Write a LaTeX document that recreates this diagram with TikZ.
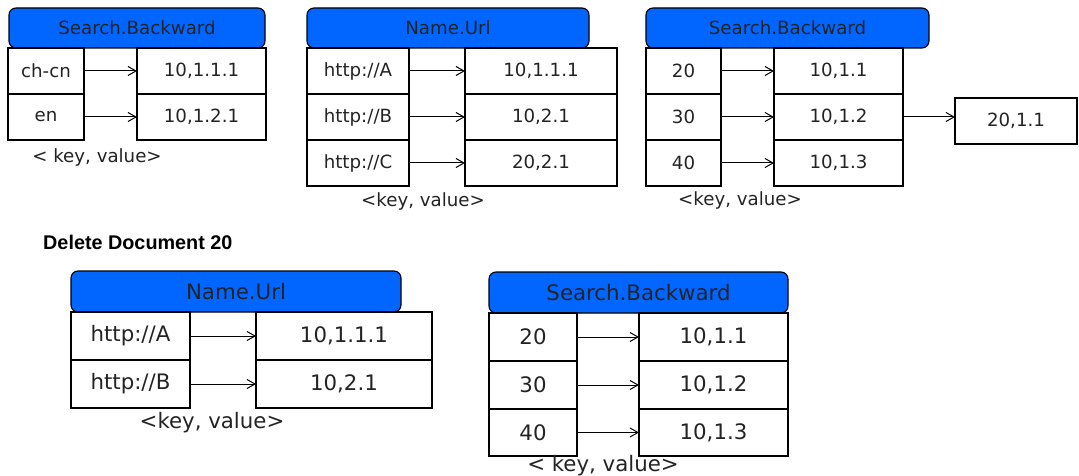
\documentclass[tikz,border=0pt]{standalone}
\usepackage{fontspec}
\setmainfont{DejaVu Sans}
\newfontfamily\titlefont{Liberation Sans}
\usepackage{tikz}
\usetikzlibrary{positioning}
\usetikzlibrary{arrows.meta}
\definecolor{hdrblue}{RGB}{0,102,255}
\definecolor{ink}{RGB}{35,35,35}

\tikzset{
	head/.style={draw, fill=hdrblue, rounded corners=7pt, line width=1.1pt,
		inner sep=0pt, outer sep=0pt, anchor=north west},
	cell/.style={draw, line width=1.1pt, inner sep=0pt, outer sep=0pt},
	small/.style={font=\fontsize{18.2}{18}\selectfont},
	big/.style={font=\fontsize{21.3}{21}\selectfont}
}

\begin{document}
\begin{tikzpicture}[x=1pt, y=-1pt,
						>={Straight Barb[length=8pt,width=9pt]},
						text=ink]
		\useasboundingbox (0,0) rectangle (1079,476);
		% Search.Backward (before)
		\node [head, small, minimum width=256, minimum height=40] (head1) at (9,8) {Search.Backward};
		\node [cell, small, anchor=north west, minimum width=76, minimum height=46] (key1a) at (8,48) {ch-cn};
		\node [cell, small, minimum width=76, minimum height=46, below=0pt of key1a] (key1b) {en};
		\node [cell, small, anchor=north west, minimum width=129, minimum height=46] (val1a) at (137,48) {10,1.1.1};
		\node [cell, small, minimum width=129, minimum height=46, below=0pt of val1a] (val1b) {10,1.2.1};
		\node [small] (kv1) at (97,157) {< key, value>};
		% Name.Url
		\node [head, small, minimum width=282, minimum height=40] (head2) at (307,8) {Name.Url};
		\node [cell, small, anchor=north west, minimum width=102, minimum height=46] (key2a) at (307,48) {http://A};
		\node [cell, small, minimum width=102, minimum height=46, below=0pt of key2a] (key2b) {http://B};
		\node [cell, small, minimum width=102, minimum height=46, below=0pt of key2b] (key2c) {http://C};
		\node [cell, small, anchor=north west, minimum width=152, minimum height=46] (val2a) at (465,48) {10,1.1.1};
		\node [cell, small, minimum width=152, minimum height=46, below=0pt of val2a] (val2b) {10,2.1};
		\node [cell, small, minimum width=152, minimum height=46, below=0pt of val2b] (val2c) {20,2.1};
		\node [small] (kv2) at (423,201) {<key, value>};
		% Search.Backward (numbers)
		\node [head, small, minimum width=283, minimum height=40] (head3) at (646,8) {Search.Backward};
		\node [cell, small, anchor=north west, minimum width=75, minimum height=46] (key3a) at (646,48) {20};
		\node [cell, small, minimum width=75, minimum height=46, below=0pt of key3a] (key3b) {30};
		\node [cell, small, minimum width=75, minimum height=46, below=0pt of key3b] (key3c) {40};
		\node [cell, small, anchor=north west, minimum width=129, minimum height=46] (val3a) at (774,48) {10,1.1};
		\node [cell, small, minimum width=129, minimum height=46, below=0pt of val3a] (val3b) {10,1.2};
		\node [cell, small, minimum width=129, minimum height=46, below=0pt of val3b] (val3c) {10,1.3};
		\node [cell, small, anchor=north west, minimum width=122, minimum height=46] (ext3) at (955,98) {20,1.1};
		\node [small] (kv3) at (740,200) {<key, value>};
		% after the delete
		\node [anchor=west, inner sep=0pt, font=\fontsize{19.8}{20}\selectfont\titlefont\bfseries, text=black] (title) at (43,242) {Delete Document 20};
		\node [head, big, minimum width=330, minimum height=41] (head4) at (71,271) {Name.Url};
		\node [cell, big, anchor=north west, minimum width=119, minimum height=48] (key4a) at (71,312) {http://A};
		\node [cell, big, minimum width=119, minimum height=48, below=0pt of key4a] (key4b) {http://B};
		\node [cell, big, anchor=north west, minimum width=176, minimum height=48] (val4a) at (256,312) {10,1.1.1};
		\node [cell, big, minimum width=176, minimum height=48, below=0pt of val4a] (val4b) {10,2.1};
		\node [big] (kv4) at (212,423) {<key, value>};
		\node [head, big, minimum width=299, minimum height=41] (head5) at (489,272) {Search.Backward};
		\node [cell, big, anchor=north west, minimum width=88, minimum height=48] (key5a) at (489,313) {20};
		\node [cell, big, minimum width=88, minimum height=48, below=0pt of key5a] (key5b) {30};
		\node [cell, big, minimum width=88, minimum height=47, below=0pt of key5b] (key5c) {40};
		\node [cell, big, anchor=north west, minimum width=149, minimum height=48] (val5a) at (639,313) {10,1.1};
		\node [cell, big, minimum width=149, minimum height=48, below=0pt of val5a] (val5b) {10,1.2};
		\node [cell, big, minimum width=149, minimum height=47, below=0pt of val5b] (val5c) {10,1.3};
		\node [big] (kv5) at (603,466) {< key, value>};
		\path [->, line width=1pt]
			(key1a) edge [] (val1a)
			(key1b) edge [] (val1b)
			(key2a) edge [] (val2a)
			(key2b) edge [] (val2b)
			(key2c) edge [] (val2c)
			(key3a) edge [] (val3a)
			(key3b) edge [] (val3b)
			(key3c) edge [] (val3c)
			(val3b) edge [] (val3b -| ext3.west)
			(key4a) edge [] (val4a)
			(key4b) edge [] (val4b)
			(key5a) edge [] (val5a)
			(key5b) edge [] (val5b)
			(key5c) edge [] (val5c);
	\end{tikzpicture}
\end{document}
